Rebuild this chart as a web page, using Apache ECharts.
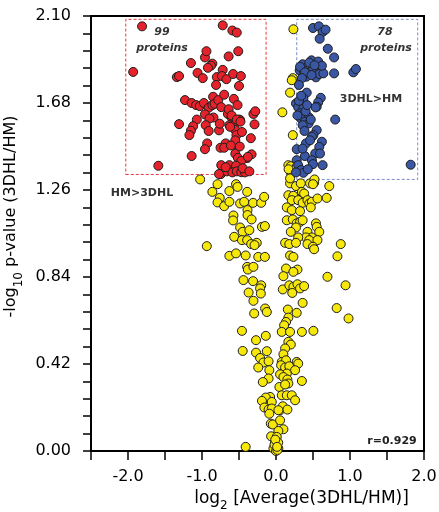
<!DOCTYPE html>
<html><head><meta charset="utf-8">
<script src="https://cdn.jsdelivr.net/npm/echarts@6/dist/echarts.min.js"></script>
<style>html,body{margin:0;padding:0;background:#fff}#c{width:439px;height:512px}</style>
</head><body><div id="c"></div>
<script>
// ---- data (log2 ratio, -log10 p) ----
const redPoints = [
[-1.81,2.05],[-0.72,2.055],[-0.59,2.03],[-0.53,2.02],[-0.51,1.93],[-0.64,1.905],[-0.96,1.90],[-1.15,1.873],
[-0.86,1.87],[-0.88,1.86],[-0.92,1.85],[-0.72,1.84],[-1.93,1.83],[-1.06,1.825],[-0.99,1.80],[-1.34,1.805],
[-1.31,1.81],[-0.80,1.805],[-0.73,1.81],[-0.67,1.795],[-0.58,1.82],[-0.475,1.81],[-0.81,1.767],[-0.50,1.762],
[-0.85,1.71],[-1.23,1.694],[-0.57,1.70],[-1.14,1.68],[-1.08,1.67],[-1.03,1.665],[-0.975,1.68],[-0.91,1.657],
[-0.86,1.67],[-0.83,1.676],[-0.78,1.694],[-0.74,1.66],[-0.305,1.627],[-0.96,1.625],[-0.845,1.61],[-0.90,1.605],
[-0.65,1.627],[-0.60,1.61],[-0.50,1.60],[-0.485,1.598],[-1.07,1.60],[-1.31,1.578],[-1.12,1.568],[-1.15,1.546],
[-1.17,1.525],[-0.95,1.573],[-0.91,1.545],[-0.77,1.548],[-0.63,1.573],[-0.56,1.577],[-0.55,1.55],[-0.535,1.525],
[-0.46,1.54],[-0.29,1.577],[-0.34,1.51],[-0.93,1.485],[-0.96,1.457],[-0.75,1.464],[-0.68,1.485],[-0.70,1.464],
[-0.555,1.48],[-1.14,1.424],[-0.55,1.435],[-0.515,1.415],[-0.39,1.414],[-0.33,1.432],[-0.47,1.40],[-1.59,1.377],
[-0.74,1.38],[-0.63,1.38],[-0.54,1.377],[-0.745,1.337],[-0.665,1.35],[-0.59,1.345],[-0.53,1.35],[-0.47,1.346],
[-0.42,1.345],[-0.77,1.337],[-0.64,1.65],[-0.60,1.62],[-0.53,1.60],[-0.62,1.565],[-0.55,1.50],[-0.61,1.475],
[-0.49,1.47],[-0.38,1.42],[-0.45,1.365],[-0.36,1.35],[-0.68,1.37],[-0.48,1.59],[-0.28,1.64],[-0.70,1.72],
[-0.76,1.58],[-0.94,1.93],[-0.52,1.67]
];
const bluePoints = [
[0.50,2.042],[0.58,2.05],[0.63,2.023],[0.67,2.034],[0.59,1.99],[0.70,1.942],[0.785,1.90],[0.785,1.823],
[1.045,1.828],[1.08,1.844],
[0.36,1.867],[0.32,1.838],[0.38,1.833],[0.48,1.886],[0.57,1.88],[0.43,1.858],[0.46,1.847],[0.53,1.83],
[0.585,1.839],[0.41,1.807],[0.54,1.804],[0.585,1.82],[0.325,1.855],[0.50,1.85],[0.39,1.828],[0.48,1.815],
[0.64,1.823],[0.35,1.80],[0.62,1.86],[0.45,1.875],[0.52,1.862],
[0.31,1.767],[0.415,1.73],[0.605,1.705],[0.57,1.683],[0.55,1.662],[0.535,1.659],[0.37,1.702],[0.27,1.678],
[0.30,1.659],[0.37,1.654],[0.325,1.63],[0.385,1.63],[0.44,1.613],[0.335,1.606],[0.39,1.589],[0.44,1.581],
[0.36,1.573],[0.80,1.60],[0.31,1.69],[0.40,1.64],[0.29,1.62],[0.42,1.67],[0.34,1.715],[0.47,1.60],
[0.55,1.549],[0.505,1.525],[0.62,1.493],[0.485,1.517],[0.385,1.545],[0.405,1.485],[0.28,1.457],[0.585,1.468],
[0.53,1.436],[0.595,1.436],[0.39,1.424],[0.485,1.404],[0.63,1.38],[0.28,1.404],[0.30,1.38],[0.34,1.356],
[0.37,1.343],[0.27,1.345],[0.50,1.385],[1.82,1.382],[0.46,1.50],[0.36,1.46],[0.43,1.36]
];
const yellowPoints = [
[-1.025,1.311],[-0.79,1.288],[-0.86,1.251],[-0.63,1.255],[-0.54,1.288],[-0.52,1.275],[-0.39,1.251],[-0.76,1.222],
[-0.79,1.20],[-0.70,1.182],[-0.63,1.203],[-0.485,1.195],[-0.43,1.203],[-0.31,1.198],[-0.20,1.198],[-0.16,1.227],
[-0.575,1.137],[-0.58,1.113],[-0.385,1.163],[-0.385,1.139],[-0.33,1.118],[-0.485,1.079],[-0.45,1.058],[-0.36,1.066],
[-0.19,1.082],[-0.15,1.086],[-0.565,1.034],[-0.46,1.018],[-0.39,1.018],[-0.335,0.999],[-0.26,1.005],[-0.29,0.994],
[-0.935,0.989],[-0.63,0.942],[-0.54,0.954],[-0.41,0.944],[-0.24,0.937],[-0.15,0.937],[-0.39,0.889],[-0.38,0.876],
[-0.305,0.889],
[-0.44,0.825],[-0.31,0.82],[-0.20,0.80],[-0.215,0.785],[-0.205,0.76],[-0.37,0.765],[-0.305,0.725],[-0.295,0.664],
[-0.147,0.688],[-0.124,0.671],[0.092,0.78],[0.18,0.80],[0.235,0.792],[0.29,0.805],[0.325,0.785],[0.38,0.796],
[0.22,0.763],[0.36,0.715],[0.16,0.683],[0.28,0.667],[0.167,0.644],[0.136,0.623],[0.11,0.607],[0.078,0.575],
[0.19,0.575],[0.35,0.575],[0.505,0.58],[-0.46,0.58],[-0.27,0.535],[-0.138,0.556],[0.167,0.527],[0.20,0.514],
[-0.45,0.483],[-0.27,0.475],[-0.124,0.482],[0.123,0.495],[0.10,0.467],[-0.215,0.449],[-0.17,0.427],[-0.10,0.433],
[0.078,0.43],[0.136,0.438],[-0.24,0.403],[-0.09,0.39],[0.069,0.414],[0.123,0.403],[0.18,0.409],[0.28,0.43],
[0.30,0.422],[0.258,0.39],[0.146,0.374],[0.055,0.37],[0.10,0.357],[0.154,0.345],[0.167,0.326],[-0.10,0.35],
[-0.178,0.333],[0.35,0.338],[0.046,0.309],[0.123,0.321],[-0.08,0.261],[-0.138,0.258],[-0.19,0.242],[-0.057,0.237],
[0.078,0.269],[0.146,0.269],[0.213,0.269],[0.258,0.245],[-0.157,0.21],[-0.10,0.20],[-0.057,0.205],[0.055,0.197],
[0.092,0.216],[0.154,0.20],[0.032,0.197],[-0.09,0.18],[-0.07,0.132],[-0.043,0.128],[0.055,0.148],[0.10,0.105],
[0.032,0.097],[-0.066,0.071],[0.01,0.068],[-0.012,0.043],[0.01,0.028],[-0.035,0.012],[0.032,0.012],[0.82,0.69],
[0.94,0.80],[0.98,0.64],[-0.41,0.02],
[0.0,0.0],[0.02,0.005],[-0.02,0.03],[0.03,0.04],[-0.01,0.055],[0.015,0.02],
[0.167,1.38],[0.20,1.375],[0.20,1.343],[0.28,1.372],[0.19,1.292],[0.27,1.279],[0.335,1.292],[0.46,1.292],
[0.515,1.295],[0.52,1.311],[0.50,1.288],[0.72,1.279],[0.167,1.235],[0.235,1.232],[0.213,1.211],[0.35,1.251],
[0.38,1.243],[0.30,1.211],[0.36,1.198],[0.425,1.211],[0.45,1.195],[0.485,1.203],[0.56,1.219],[0.685,1.222],
[0.146,1.176],[0.213,1.163],[0.325,1.158],[0.47,1.176],[0.146,1.114],[0.227,1.118],[0.28,1.099],[0.325,1.106],
[0.36,1.114],[0.27,1.079],[0.20,1.058],[0.54,1.099],[0.55,1.082],[0.585,1.058],[0.425,1.058],[0.485,1.031],
[0.405,1.031],[0.45,1.018],[0.56,1.018],[0.30,1.031],[0.123,1.005],[0.18,0.999],[0.27,1.005],[0.425,0.999],
[0.50,0.986],[0.515,0.974],[0.875,0.999],[0.19,0.944],[0.235,0.937],[0.83,0.94],[0.136,0.881],[0.29,0.876],
[0.235,0.865],[0.10,0.844],[0.695,0.841],
[0.235,2.036],[0.227,1.80],[0.213,1.79],[0.19,1.73],[0.086,1.635],[0.227,1.525],[0.19,1.316],[0.17,1.36]
];
const yAxisTicks = [0, 0.42, 0.84, 1.26, 1.68, 2.10];
const xAxisTicks = [-2, -1, 0, 1, 2];
// annotation boxes in data coordinates
const redBox = [[-2.03, 1.335], [-0.134, 2.084]];
const blueBox = [[0.28, 1.311], [1.915, 2.084]];

const FONT = 'DejaVu Sans';
const chart = echarts.init(document.getElementById('c'), null, {renderer: 'canvas'});
const markerStyle = c => ({color: c, borderColor: '#1e1e1e', borderWidth: 1, opacity: 1});
const boxArea = (b, col) => ({
  silent: true,
  itemStyle: {color: 'rgba(0,0,0,0)', borderColor: col, borderWidth: 1, borderType: [3, 2]},
  data: [[{coord: b[0]}, {coord: b[1]}]]
});
chart.setOption({
  animation: false,
  backgroundColor: '#fff',
  grid: {left: 91, right: 15, top: 16, bottom: 61, containLabel: false, outerBoundsMode: 'none',
         show: true, borderColor: '#000', borderWidth: 2, backgroundColor: 'rgba(0,0,0,0)'},
  xAxis: {
    type: 'value', min: -2.5, max: 2.0, interval: 0.5,
    splitLine: {show: false},
    axisLine: {show: true, onZero: false, lineStyle: {color: '#000', width: 2}},
    axisTick: {show: true, length: 9, lineStyle: {color: '#000', width: 1.5}},
    axisLabel: {
      color: '#000', fontFamily: FONT, fontSize: 16, margin: 18,
      formatter: v => xAxisTicks.some(t => Math.abs(t - v) < 1e-6) ? v.toFixed(1) : ''
    },
    name: '{n|log}{s|2}{n| [Average(3DHL/HM)]}',
    nameLocation: 'middle', nameGap: 35,
    nameTextStyle: {
      padding: [0, 0, 0, 88],
      rich: {
        n: {fontFamily: FONT, fontSize: 17, color: '#000', lineHeight: 22, verticalAlign: 'top'},
        s: {fontFamily: FONT, fontSize: 12, color: '#000', verticalAlign: 'bottom', lineHeight: 14}
      }
    }
  },
  yAxis: {
    type: 'value', min: 0, max: 2.1, interval: 0.42,
    splitLine: {show: false},
    axisLine: {show: true, onZero: false, lineStyle: {color: '#000', width: 2}},
    axisTick: {show: true, length: 8, lineStyle: {color: '#000', width: 1.5}},
    minorTick: {show: true, splitNumber: 5, length: 8, lineStyle: {color: '#000', width: 1.5}},
    minorSplitLine: {show: false},
    axisLabel: {
      color: '#000', fontFamily: FONT, fontSize: 16, margin: 20, showMaxLabel: true,
      formatter: v => yAxisTicks.some(t => Math.abs(t - v) < 1e-6) ? v.toFixed(2) : ''
    },
    name: '{n|-log}{s|10}{n| p-value (3DHL/HM)}',
    nameLocation: 'middle', nameGap: 56, nameRotate: 90,
    nameTextStyle: {
      padding: [0, 0, 0, 34],
      rich: {
        n: {fontFamily: FONT, fontSize: 16, color: '#000', lineHeight: 22, verticalAlign: 'top'},
        s: {fontFamily: FONT, fontSize: 12, color: '#000', verticalAlign: 'bottom', lineHeight: 14}
      }
    }
  },
  series: [
    {type: 'scatter', name: 'ns', data: yellowPoints, symbol: 'circle', symbolSize: 9, itemStyle: markerStyle('#f7e80c'), z: 2},
    {type: 'scatter', name: 'HM>3DHL', data: redPoints, symbol: 'circle', symbolSize: 9, itemStyle: markerStyle('#e6222a'), z: 3,
     markArea: boxArea(redBox, '#e8393f')},
    {type: 'scatter', name: '3DHL>HM', data: bluePoints, symbol: 'circle', symbolSize: 9, itemStyle: markerStyle('#3a57a5'), z: 3,
     markArea: boxArea(blueBox, '#7a8fc4')}
  ],
  graphic: [
    {type: 'text', x: 162, y: 32, z: 10, style: {text: '99', font: 'italic bold 11px "DejaVu Sans"', fill: '#333', align: 'center', verticalAlign: 'middle'}},
    {type: 'text', x: 162, y: 48, z: 10, style: {text: 'proteins', font: 'italic bold 11px "DejaVu Sans"', fill: '#333', align: 'center', verticalAlign: 'middle'}},
    {type: 'text', x: 385, y: 32, z: 10, style: {text: '78', font: 'italic bold 11px "DejaVu Sans"', fill: '#333', align: 'center', verticalAlign: 'middle'}},
    {type: 'text', x: 386, y: 48, z: 10, style: {text: 'proteins', font: 'italic bold 11px "DejaVu Sans"', fill: '#333', align: 'center', verticalAlign: 'middle'}},
    {type: 'text', x: 371, y: 99, z: 10, style: {text: '3DHL>HM', font: 'bold 11px "DejaVu Sans"', fill: '#333', align: 'center', verticalAlign: 'middle'}},
    {type: 'text', x: 142, y: 193, z: 10, style: {text: 'HM>3DHL', font: 'bold 11px "DejaVu Sans"', fill: '#333', align: 'center', verticalAlign: 'middle'}},
    {type: 'text', x: 392, y: 441, z: 10, style: {text: 'r=0.929', font: 'bold 11px "DejaVu Sans"', fill: '#222', align: 'center', verticalAlign: 'middle'}}
  ]
});
</script></body></html>
